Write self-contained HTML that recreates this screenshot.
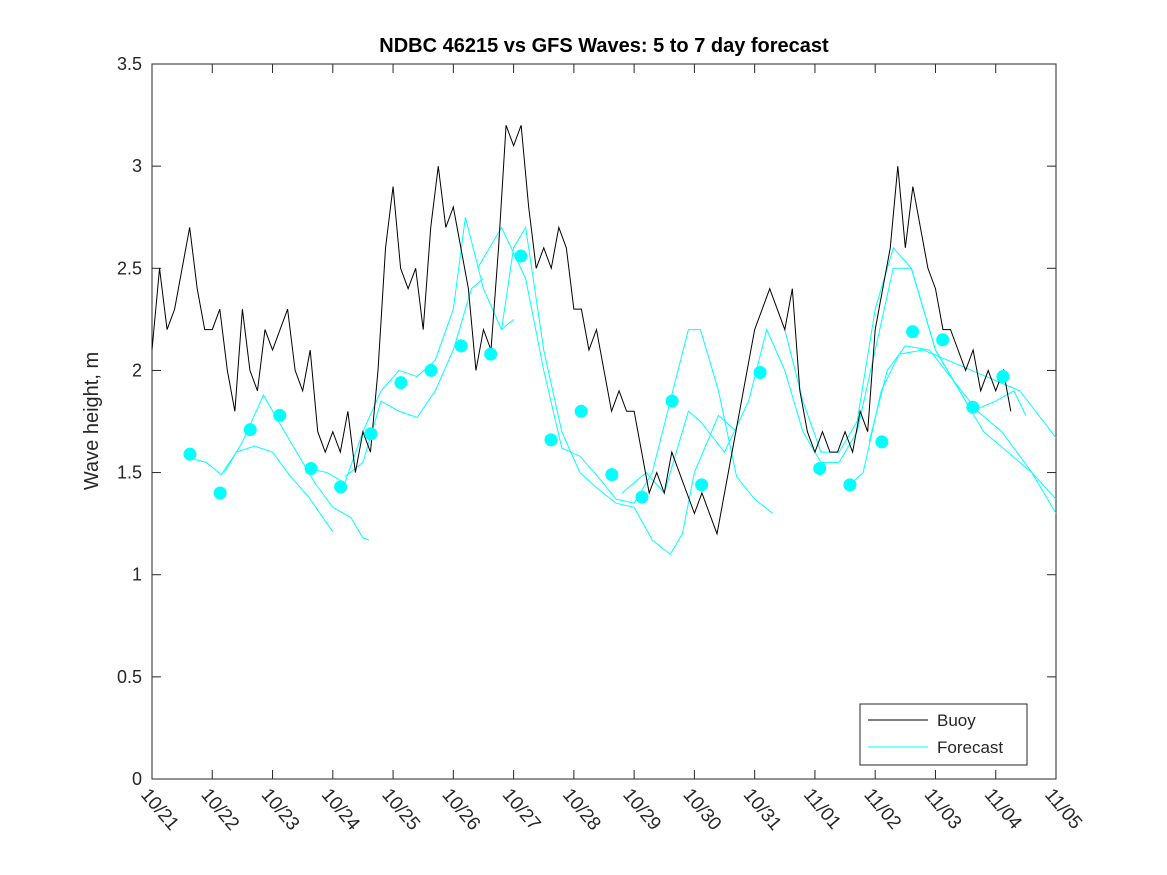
<!DOCTYPE html>
<html><head><meta charset="utf-8"><style>
html,body{margin:0;padding:0;background:#fff;}
svg{display:block;font-family:"Liberation Sans","DejaVu Sans",sans-serif;}
</style></head><body>
<svg id="chart" width="1167" height="875" viewBox="0 0 1167 875">
<rect x="0" y="0" width="1167" height="875" fill="#fff"/>
<text x="604" y="52" text-anchor="middle" font-size="20" font-weight="bold">NDBC 46215 vs GFS Waves: 5 to 7 day forecast</text>
<g id="grid"></g>
<g id="marks"></g>
<text transform="translate(98,421) rotate(-90)" text-anchor="middle" font-size="20" fill="#262626">Wave height, m</text>
<g>
<rect x="860" y="704" width="167" height="61" fill="#fff" stroke="#262626" stroke-width="1"/>
<line x1="868" y1="720" x2="928" y2="720" stroke="#000" stroke-width="1"/>
<text x="937" y="726" font-size="17" fill="#262626">Buoy</text>
<line x1="868" y1="747" x2="928" y2="747" stroke="#00ffff" stroke-width="1"/>
<text x="937" y="753" font-size="17" fill="#262626">Forecast</text>
</g>
</svg>
<script>
const xTickLabels=["10/21","10/22","10/23","10/24","10/25","10/26","10/27","10/28","10/29","10/30","10/31","11/01","11/02","11/03","11/04","11/05"];
const yTicks=[0,0.5,1,1.5,2,2.5,3,3.5];
const yTickLabels=["0","0.5","1","1.5","2","2.5","3","3.5"];
// buoy, 3-hour steps starting 10/21 00:00
const buoyValues=[
 2.1,2.5,2.2,2.3,2.5,2.7,2.4,2.2,
 2.2,2.3,2.0,1.8,2.3,2.0,1.9,2.2,
 2.1,2.2,2.3,2.0,1.9,2.1,1.7,1.6,
 1.7,1.6,1.8,1.5,1.7,1.6,2.0,2.6,
 2.9,2.5,2.4,2.5,2.2,2.7,3.0,2.7,
 2.8,2.6,2.4,2.0,2.2,2.1,2.6,3.2,
 3.1,3.2,2.8,2.5,2.6,2.5,2.7,2.6,
 2.3,2.3,2.1,2.2,2.0,1.8,1.9,1.8,
 1.8,1.6,1.4,1.5,1.4,1.6,1.5,1.4,
 1.3,1.4,1.3,1.2,1.4,1.6,1.8,2.0,
 2.2,2.3,2.4,2.3,2.2,2.4,1.9,1.7,
 1.6,1.7,1.6,1.6,1.7,1.6,1.8,1.7,
 2.2,2.4,2.6,3.0,2.6,2.9,2.7,2.5,
 2.4,2.2,2.2,2.1,2.0,2.1,1.9,2.0,
 1.9,2.0,1.8];
const forecastLines=[
[[0.63,1.57],[0.9,1.55],[1.15,1.49],[1.4,1.6],[1.7,1.63],[2.0,1.6],[2.3,1.48],[2.6,1.38],[3.0,1.21]],
[[1.2,1.50],[1.5,1.65],[1.85,1.88],[2.1,1.75],[2.4,1.6],[2.7,1.45],[3.0,1.33],[3.3,1.28],[3.5,1.18],[3.6,1.17]],
[[2.6,1.52],[2.9,1.50],[3.2,1.45],[3.5,1.70],[3.8,1.9],[4.1,2.0],[4.4,1.97],[4.7,2.05],[5.0,2.3],[5.2,2.75],[5.5,2.4],[5.8,2.2],[6.0,2.25]],
[[3.2,1.48],[3.5,1.55],[3.8,1.85],[4.1,1.8],[4.4,1.77],[4.7,1.9],[5.0,2.1],[5.3,2.4],[5.5,2.45]],
[[5.8,2.2],[6.0,2.6],[6.2,2.7],[6.5,2.1],[6.8,1.7],[7.1,1.5],[7.4,1.42],[7.7,1.35],[8.0,1.33],[8.3,1.17],[8.6,1.1],[8.8,1.2],[9.0,1.5],[9.4,1.78],[9.7,1.70]],
[[5.4,2.5],[5.8,2.7],[6.2,2.45],[6.5,2.0],[6.8,1.62],[7.1,1.58],[7.4,1.48],[7.7,1.37],[8.0,1.35],[8.3,1.5],[8.6,1.85],[8.9,2.2],[9.1,2.2],[9.4,1.9],[9.7,1.48],[10.0,1.37],[10.3,1.3]],
[[7.8,1.40],[8.2,1.5],[8.5,1.4],[8.9,1.8],[9.1,1.75],[9.5,1.6],[9.9,1.85],[10.2,2.2],[10.5,2.0],[10.8,1.7],[11.1,1.55],[11.4,1.55],[11.7,1.7],[12.0,2.1],[12.3,2.5],[12.6,2.5],[13.0,2.1],[13.3,1.95],[13.6,1.8],[14.0,1.85],[14.3,1.9],[14.5,1.78]],
[[10.5,2.2],[10.8,1.85],[11.1,1.6],[11.4,1.6],[11.7,1.75],[12.0,2.3],[12.3,2.6],[12.6,2.5],[13.0,2.1],[13.4,1.9],[13.8,1.7],[14.2,1.6],[14.6,1.5],[15.0,1.3]],
[[11.5,1.42],[11.8,1.5],[12.1,1.9],[12.4,2.08],[12.8,2.1],[13.2,2.05],[13.6,2.0],[14.0,1.95],[14.4,1.9],[15.0,1.67]],
[[11.9,1.65],[12.2,2.0],[12.5,2.12],[12.9,2.1],[13.3,1.95],[13.7,1.8],[14.1,1.7],[14.6,1.5],[15.0,1.37]]
];
const dotDays=[0.63,1.13,1.63,2.12,2.64,3.13,3.63,4.13,4.63,5.13,5.62,6.12,6.62,7.12,7.63,8.13,8.63,9.12,10.09,11.08,11.58,12.11,12.62,13.12,13.62,14.12];
const dotValues=[1.59,1.40,1.71,1.78,1.52,1.43,1.69,1.94,2.00,2.12,2.08,2.56,1.66,1.80,1.49,1.38,1.85,1.44,1.99,1.52,1.44,1.65,2.19,2.15,1.82,1.97];

const X0=152,X1=1056,Y0=779,Y1=64,NS="http://www.w3.org/2000/svg";
const xs=d=>X0+(X1-X0)*d/15;
const ys=v=>Y0-(Y0-Y1)*v/3.5;
const grid=document.getElementById('grid'),marks=document.getElementById('marks');
function mk(tag,attrs,parent){const e=document.createElementNS(NS,tag);for(const k in attrs)e.setAttribute(k,attrs[k]);parent.appendChild(e);return e;}

const frame=mk('rect',{x:X0,y:Y1,width:X1-X0,height:Y0-Y1,fill:'none',stroke:'#262626','stroke-width':1},grid);


xTickLabels.forEach((l,i)=>{
  const x=xs(i);
  const t1=mk('line',{x1:x,y1:Y0,x2:x,y2:Y0-9,stroke:'#262626'},grid);
  
  
  const t2=mk('line',{x1:x,y1:Y1,x2:x,y2:Y1+9,stroke:'#262626'},grid);
  
  
  const tx=mk('text',{x:x-12,y:Y0+16,'font-size':19,fill:'#262626',transform:`rotate(50 ${x-12} ${Y0+16})`},grid);
  tx.textContent=l;
  
  
});
yTicks.forEach((v,i)=>{
  const y=ys(v);
  const t1=mk('line',{x1:X0,y1:y,x2:X0+9,y2:y,stroke:'#262626'},grid);
  
  
  const t2=mk('line',{x1:X1,y1:y,x2:X1-9,y2:y,stroke:'#262626'},grid);
  
  
  const tx=mk('text',{x:X0-10,y:y+6,'font-size':18,fill:'#262626','text-anchor':'end'},grid);
  tx.textContent=yTickLabels[i];
  
  
});
forecastLines.forEach(line=>{
  const p=mk('polyline',{points:line.map(q=>xs(q[0])+','+ys(q[1])).join(' '),fill:'none',stroke:'#00ffff','stroke-width':1},marks);
  
  
});
const b=mk('polyline',{points:buoyValues.map((v,i)=>xs(i*0.125)+','+ys(v)).join(' '),fill:'none',stroke:'#000','stroke-width':1},marks);


dotDays.forEach((d,i)=>{
  const c=mk('circle',{cx:xs(d),cy:ys(dotValues[i]),r:6.5,fill:'#00ffff'},marks);
  
  
});
</script>
</body></html>
